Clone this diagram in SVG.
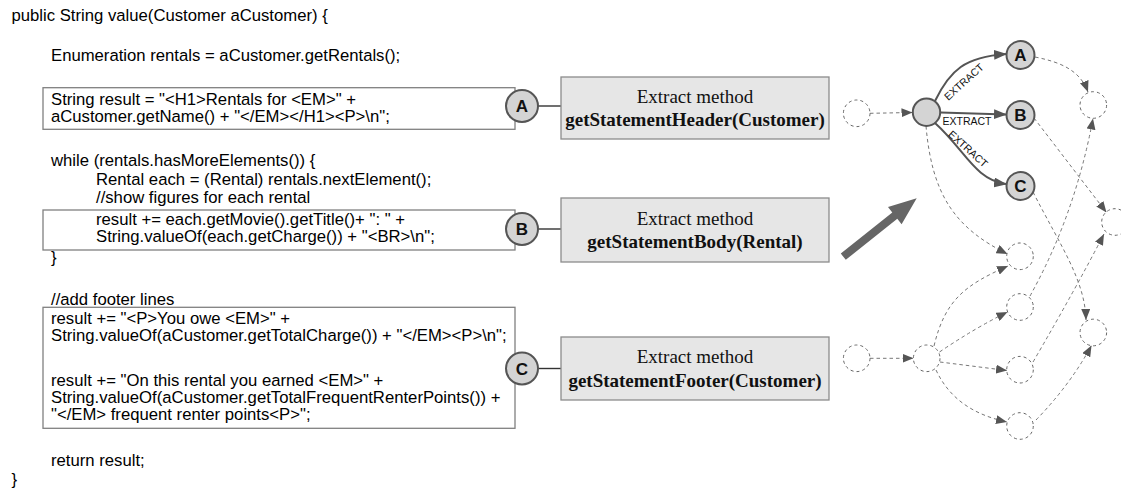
<svg xmlns="http://www.w3.org/2000/svg" width="1121" height="488" viewBox="0 0 1121 488">
<style>
.code{font-family:"Liberation Sans",Arial,sans-serif;font-size:16.7px;fill:#000}
.cbox{fill:none;stroke:#808080;stroke-width:1.3}
.ebox{fill:#e6e6e6;stroke:#8c8c8c;stroke-width:1.3}
.etxt{font-family:"Liberation Serif","Times New Roman",serif;font-size:19px;fill:#111;text-anchor:middle}
.bold{font-weight:bold}
.lc{fill:#d4d4d4;stroke:#555;stroke-width:2}
.lt{font-family:"Liberation Sans",Arial,sans-serif;font-weight:bold;font-size:17px;fill:#111;text-anchor:middle}
.link{stroke:#333;stroke-width:1.4;fill:none}
.dc{fill:#fff;stroke:#666;stroke-width:1;stroke-dasharray:3 3}
.de{fill:none;stroke:#777;stroke-width:1;stroke-dasharray:3.5 3}
.se{fill:none;stroke:#555;stroke-width:2}
.xt{font-family:"Liberation Sans",Arial,sans-serif;font-size:10.5px;fill:#111;text-anchor:middle}
.ah{fill:#555;stroke:none}
</style>
<defs>
<marker id="ad" markerUnits="userSpaceOnUse" markerWidth="11" markerHeight="9" viewBox="0 0 11 9" refX="11" refY="4.5" orient="auto"><path class="ah" d="M0,0 L11,4.5 L0,9 z"/></marker>
<marker id="as" markerUnits="userSpaceOnUse" markerWidth="13" markerHeight="10" viewBox="0 0 13 10" refX="12" refY="5" orient="auto"><path class="ah" d="M0,0 L13,5 L0,10 z"/></marker>
</defs>
<rect width="1121" height="488" fill="#fff"/>

<g id="code">
<text class="code" x="11.5" y="21">public String value(Customer aCustomer) {</text>
<text class="code" x="51" y="60.5">Enumeration rentals = aCustomer.getRentals();</text>
<text class="code" x="51" y="166">while (rentals.hasMoreElements()) {</text>
<text class="code" x="96" y="184.5">Rental each = (Rental) rentals.nextElement();</text>
<text class="code" x="96" y="203">//show figures for each rental</text>
<text class="code" x="51" y="263">}</text>
<text class="code" x="51" y="304.5">//add footer lines</text>
<text class="code" x="51" y="466">return result;</text>
<text class="code" x="11.5" y="485">}</text>
</g>

<g id="blockA">
<rect class="cbox" x="43" y="87.7" width="472" height="41.6"/>
<text class="code" x="51" y="104.5">String result = "&lt;H1&gt;Rentals for &lt;EM&gt;" +</text>
<text class="code" x="51" y="121.5">aCustomer.getName() + "&lt;/EM&gt;&lt;/H1&gt;&lt;P&gt;\n";</text>
</g>
<g id="blockB">
<rect class="cbox" x="43" y="210" width="472" height="40"/>
<text class="code" x="96" y="225">result += each.getMovie().getTitle()+ ": " +</text>
<text class="code" x="96" y="242">String.valueOf(each.getCharge()) + "&lt;BR&gt;\n";</text>
</g>
<g id="blockC">
<rect class="cbox" x="43" y="307.3" width="472" height="121"/>
<text class="code" x="51" y="324">result += "&lt;P&gt;You owe &lt;EM&gt;" +</text>
<text class="code" x="51" y="341">String.valueOf(aCustomer.getTotalCharge()) + "&lt;/EM&gt;&lt;P&gt;\n";</text>
<text class="code" x="51" y="386">result += "On this rental you earned &lt;EM&gt;" +</text>
<text class="code" x="51" y="403">String.valueOf(aCustomer.getTotalFrequentRenterPoints()) +</text>
<text class="code" x="51" y="420">"&lt;/EM&gt; frequent renter points&lt;P&gt;";</text>
</g>

<g id="links">
<line class="link" x1="538" y1="106" x2="561" y2="106"/>
<line class="link" x1="538" y1="229" x2="561" y2="229"/>
<line class="link" x1="538" y1="368.5" x2="561" y2="368.5"/>
</g>

<g id="markA">
<circle class="lc" cx="522" cy="106" r="16"/>
<text class="lt" x="522" y="112">A</text>
</g>
<g id="markB">
<circle class="lc" cx="522" cy="229" r="16"/>
<text class="lt" x="522" y="235">B</text>
</g>
<g id="markC">
<circle class="lc" cx="522" cy="368.5" r="16"/>
<text class="lt" x="522" y="374.5">C</text>
</g>

<g id="extractHeader">
<rect class="ebox" x="561" y="77" width="268" height="62"/>
<text class="etxt" x="695" y="103">Extract method</text>
<text class="etxt bold" x="695" y="126">getStatementHeader(Customer)</text>
</g>
<g id="extractBody">
<rect class="ebox" x="561" y="198" width="268" height="64"/>
<text class="etxt" x="695" y="225">Extract method</text>
<text class="etxt bold" x="695" y="248">getStatementBody(Rental)</text>
</g>
<g id="extractFooter">
<rect class="ebox" x="561" y="337" width="268" height="63"/>
<text class="etxt" x="695" y="363">Extract method</text>
<text class="etxt bold" x="695" y="387">getStatementFooter(Customer)</text>
</g>

<g id="bigArrow">
<polygon fill="#666" points="840.8,253.6 892.3,212.6 888,207.1 916.7,198.3 901.6,224.3 897.3,218.8 845.8,259.8"/>
</g>

<g id="connectors">
<path class="de" marker-end="url(#ad)" d="M870 113.3 L912.5 112.5"/>
<path class="de" marker-end="url(#ad)" d="M870 358.3 L913.5 358.3"/>
<path class="de" marker-end="url(#ad)" d="M926 126 C932 195 955 228 1007.5 254"/>
<path class="de" marker-end="url(#ad)" d="M1035 57 C1060 62 1080 70 1088 92"/>
<path class="de" marker-end="url(#ad)" d="M1034 118 L1106.5 212.5"/>
<path class="de" marker-end="url(#ad)" d="M1033 192 C1060 245 1085 280 1086 320"/>
<path class="de" marker-end="url(#ad)" d="M934 346 C945 300 965 285 1008 266"/>
<path class="de" marker-end="url(#ad)" d="M939.5 352 Q975 328 1007.5 312"/>
<path class="de" marker-end="url(#ad)" d="M940 362 L1007 370.5"/>
<path class="de" marker-end="url(#ad)" d="M936 370 C950 400 975 415 1007 422"/>
<path class="de" marker-end="url(#ad)" d="M1030 296 Q1075 215 1093 118.5"/>
<path class="de" marker-end="url(#ad)" d="M1033 362 Q1075 290 1104 234"/>
<path class="de" marker-end="url(#ad)" d="M1036 420 Q1070 385 1091.5 345.5"/>
<path class="se" marker-end="url(#as)" d="M935 101 C950 70 965 57 1006 54"/>
<path class="se" marker-end="url(#as)" d="M940.5 112.5 L1006 114.5"/>
<path class="se" marker-end="url(#as)" d="M935 123 C965 150 975 180 1006 184"/>
<text class="xt" transform="translate(964 82) rotate(-42)" dy="3.5">EXTRACT</text>
<text class="xt" x="967" y="125">EXTRACT</text>
<text class="xt" transform="translate(968 149) rotate(42)" dy="3.5">EXTRACT</text>
</g>

<g id="graphNodes">
<circle id="n0" class="dc" cx="856.7" cy="113.3" r="13.3"/>
<circle id="hub" class="lc" cx="926.5" cy="112.2" r="13.7"/>
<g id="gA"><circle class="lc" cx="1020.5" cy="55" r="14"/><text class="lt" x="1020.5" y="61">A</text></g>
<g id="gB"><circle class="lc" cx="1020.5" cy="115" r="14"/><text class="lt" x="1020.5" y="121">B</text></g>
<g id="gC"><circle class="lc" cx="1020.5" cy="186" r="14"/><text class="lt" x="1020.5" y="192">C</text></g>
<circle id="n1" class="dc" cx="1093.3" cy="105" r="13.3"/>
<circle id="n2" class="dc" cx="1115" cy="222" r="13.3"/>
<circle id="n3" class="dc" cx="1020" cy="256.3" r="13.3"/>
<circle id="n4" class="dc" cx="1020" cy="307" r="13.3"/>
<circle id="n5" class="dc" cx="1093.3" cy="332.5" r="13.3"/>
<circle id="n6" class="dc" cx="856.7" cy="358.3" r="13.3"/>
<circle id="n7" class="dc" cx="926.7" cy="358.3" r="13.3"/>
<circle id="n8" class="dc" cx="1020" cy="369.7" r="13.3"/>
<circle id="n9" class="dc" cx="1020" cy="426" r="13.3"/>
</g>
</svg>
